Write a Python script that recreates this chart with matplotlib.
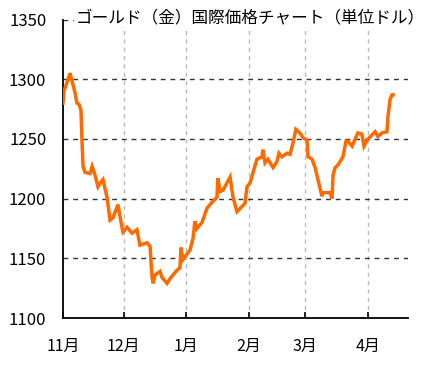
import matplotlib
matplotlib.use("Agg")
import matplotlib.pyplot as plt

plt.rcParams['font.family'] = ['Noto Sans CJK JP', 'DejaVu Sans']

# days since Nov 1 (2016) and gold price in USD
days = [0, 0.5, 3.5, 5.9, 6.9, 7.9, 8.9, 9.4, 9.9, 10.9, 13.4, 14.4, 15.8, 17.3,
        18.3, 19.8, 21.8, 23.3, 24.8, 27.2, 29.2, 29.7, 31.7, 34.2, 36.6, 38.1,
        41.6, 43.1, 44.1, 44.6, 45.5, 48.0, 49.0, 51.5, 53.0, 56.4, 57.9, 58.4,
        59.4, 62.9, 64.4, 65.3, 66.3, 68.8, 71.3, 73.8, 76.2, 76.7, 77.7, 79.2,
        82.7, 84.2, 86.1, 90.1, 91.1, 92.6, 96.0, 98.5, 99.0, 100.0, 101.5,
        104.0, 105.9, 106.9, 108.4, 110.9, 112.4, 113.9, 115.3, 117.3, 118.8,
        120.8, 121.3, 123.3, 124.8, 126.2, 128.2, 128.7, 132.2, 133.2, 133.7,
        134.7, 136.1, 138.6, 140.1, 141.1, 143.1, 146.0, 148.0, 149.0, 150.5,
        154.5, 155.9, 157.9, 160.4, 160.9, 161.9, 162.9, 163.4]
price = [1280, 1290, 1305, 1289, 1280, 1279, 1274, 1249, 1227, 1222, 1221, 1227,
         1220, 1210, 1213, 1216, 1201, 1182, 1184, 1195, 1176, 1172, 1176, 1171,
         1174, 1161, 1163, 1160, 1134, 1129, 1136, 1139, 1134, 1129, 1133, 1140,
         1142, 1159, 1149, 1157, 1167, 1181, 1175, 1180, 1192, 1197, 1201, 1217,
         1206, 1207, 1218, 1201, 1189, 1196, 1210, 1213, 1233, 1235, 1241, 1230,
         1233, 1226, 1231, 1238, 1235, 1238, 1237, 1247, 1258, 1255, 1251, 1249,
         1235, 1233, 1226, 1216, 1202, 1205, 1205, 1200, 1220, 1226, 1228, 1235,
         1248, 1248, 1244, 1255, 1254, 1244, 1249, 1256, 1252, 1255, 1256, 1269,
         1283, 1287, 1287]

month_days = [0, 30, 61, 92, 120, 151]
month_labels = ['11月', '12月', '1月', '2月', '3月', '4月']
y_ticks = [1100, 1150, 1200, 1250, 1300, 1350]
title = 'ゴールド（金）国際価格チャート（単位ドル）'

fig = plt.figure(figsize=(4.37, 3.65), dpi=100)
ax = fig.add_axes([63 / 437, 1 - 318 / 365, 345 / 437, 298.5 / 365])

for d in month_days[1:]:
    ax.axvline(d, color='#bbbbbb', lw=1, ls=(0, (3, 3)), zorder=1)
for v in y_ticks[1:]:
    ax.axhline(v, color='#333333', lw=1, ls=(0, (3.5, 3.5)), zorder=1)

ax.plot(days, price, color='#ff6a00', lw=2.5, zorder=3, solid_joinstyle='miter')

ax.set_xlim(0, 170.8)
ax.set_ylim(1100, 1350)
ax.set_xticks(month_days)
ax.set_xticklabels(month_labels)
ax.set_yticks(y_ticks)

ax.tick_params(axis='x', direction='in', length=4, width=1.2, pad=14, labelsize=11.5)
ax.tick_params(axis='y', length=0, pad=12, labelsize=12)
for s in ['top', 'right']:
    ax.spines[s].set_visible(False)
for s in ['left', 'bottom']:
    ax.spines[s].set_linewidth(1.3)

fig.text(76 / 437, 1 - 18 / 365, title, fontsize=12, va='center', ha='left',
         bbox=dict(facecolor='white', edgecolor='none', pad=1.5), zorder=5)

fig.savefig('out.png', dpi=100)
